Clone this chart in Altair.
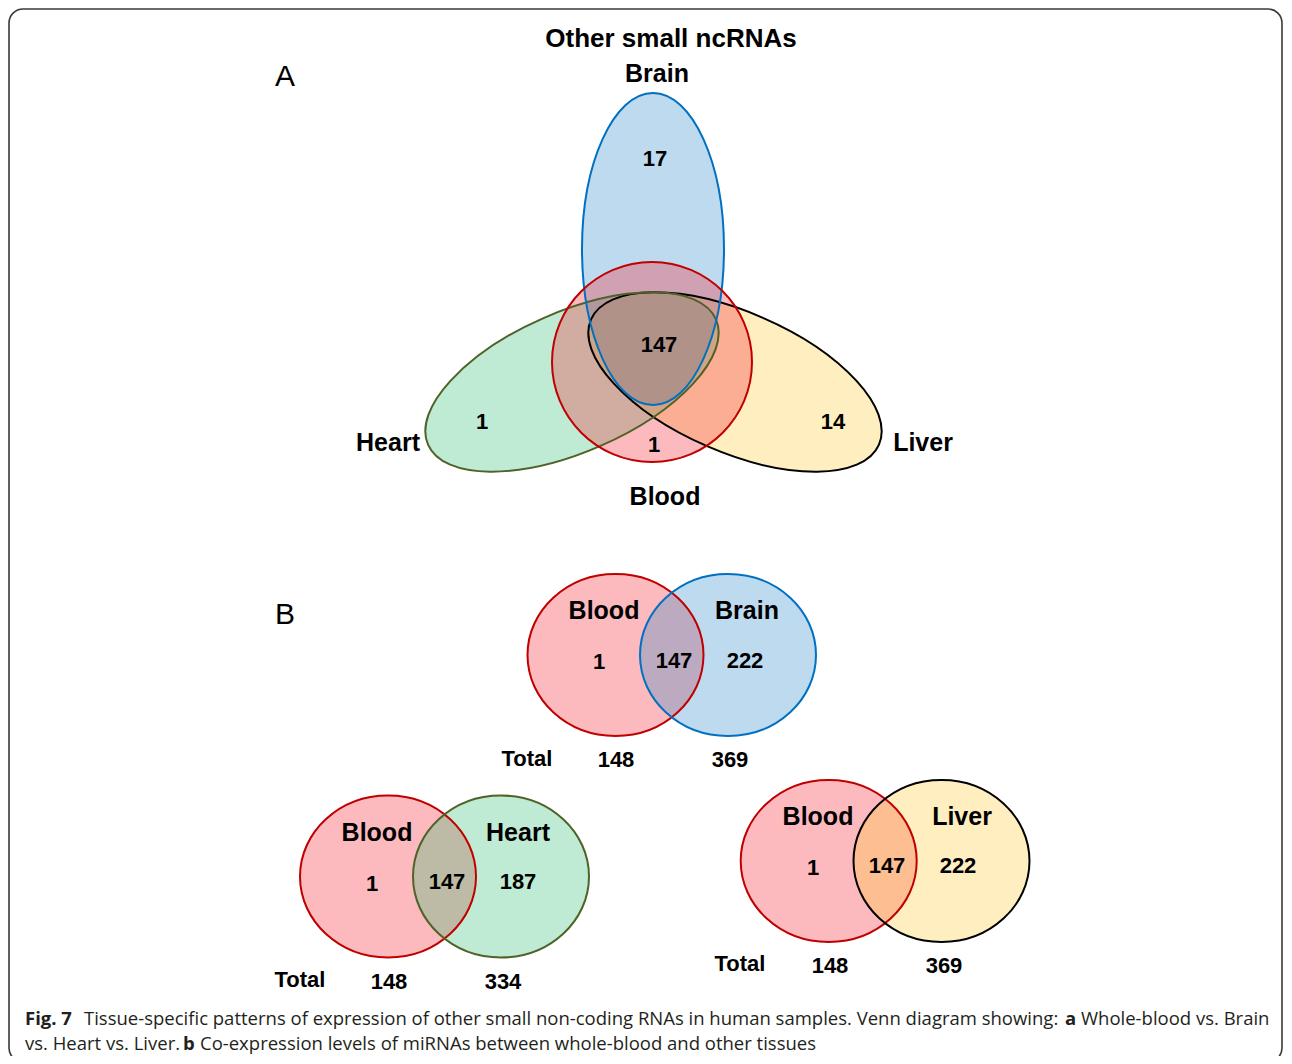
import altair as alt
import pandas as pd

# ---------------- Sets: colours ----------------
SET_NAMES = ["Brain", "Heart", "Liver", "Blood"]
SET_FILL = ["#2684C6", "#2ABC70", "#FFC62D", "#F52D3A"]
SET_FILL_OPACITY = [0.30, 0.30, 0.30, 0.33]
SET_STROKE = ["#0070C0", "#4F6228", "#000000", "#C00000"]

# ---------------- Panel A: four-set Venn (page pixel geometry) ----------------
A_SETS = ["Liver", "Heart", "Brain", "Blood"]
A_CX = [735, 572, 653, 652]
A_CY = [382, 382, 249, 362]
A_RMAJ = [157, 157, 156, 100]
A_RMIN = [70, 70, 71, 100]
A_ANGLE = [23.5, 336.5, 90, 0]
A_ORDER = [1, 2, 3, 4]

# ---------------- Panel B: three two-set Venns ----------------
B_SETS = ["Blood", "Brain", "Blood", "Heart", "Blood", "Liver"]
B_CX = [615.5, 728, 388, 501, 828.7, 941.5]
B_CY = [655, 655, 876.5, 876.5, 861, 861]
B_RMAJ = [88, 88, 88, 88, 88, 88]
B_RMIN = [81, 81, 81, 81, 81, 81]
B_ANGLE = [0, 0, 0, 0, 0, 0]
B_ORDER = [5, 6, 7, 8, 9, 10]

# ---------------- Bold texts: set labels ----------------
LABEL_TEXT = ["Brain", "Heart", "Liver", "Blood",
              "Blood", "Brain", "Blood", "Heart", "Blood", "Liver"]
LABEL_X = [657, 388, 923, 665, 604, 747, 377, 518, 818, 962]
LABEL_Y = [74, 443, 443, 497, 611, 611, 833, 833, 817, 817]

# ---------------- Bold texts: region counts ----------------
COUNT_TEXT = ["17", "147", "1", "1", "14",
              "1", "147", "222",
              "1", "147", "187",
              "1", "147", "222"]
COUNT_X = [655, 659, 482, 654, 833, 599, 674, 745, 372, 447, 518, 813, 887, 958]
COUNT_Y = [159, 345, 422, 445, 422, 662, 661, 661, 884, 882, 882, 868, 866, 866]

# ---------------- Bold texts: totals ----------------
TOTAL_TEXT = ["Total", "148", "369", "Total", "148", "334", "Total", "148", "369"]
TOTAL_X = [527, 616, 730, 300, 389, 503, 740, 830, 944]
TOTAL_Y = [759, 760, 760, 980, 982, 982, 964, 966, 966]

# ---------------- Title & panel letters ----------------
TITLE_TEXT = ["Other small ncRNAs"]
TITLE_X = [671]
TITLE_Y = [39]
PANEL_TEXT = ["A", "B"]
PANEL_X = [285, 285]
PANEL_Y = [77, 615]

# ---------------- Caption ----------------
CAP_TEXT = ["Fig. 7",
            "Tissue-specific patterns of expression of other small non-coding RNAs in human samples. Venn diagram showing:",
            "a", "Whole-blood vs. Brain",
            "vs. Heart vs. Liver.", "b",
            "Co-expression levels of miRNAs between whole-blood and other tissues"]
CAP_X = [25, 84, 1065, 1081, 25, 183, 200]
CAP_Y = [1025, 1025, 1025, 1025, 1050, 1050, 1050]
CAP_BOLD = [True, False, True, False, False, True, False]

# ---------------- Frame ----------------
FRAME_X = [9]
FRAME_X2 = [1282]
FRAME_Y = [9]
FRAME_Y2 = [1062]

W, H = 1276, 1048
X0, Y0 = 8, 8


def ellipse_path(ratio):
    k = 0.5523
    r = ratio
    return (f"M 1 0 C 1 {k*r:.4f} {k} {r:.4f} 0 {r:.4f} "
            f"C {-k} {r:.4f} -1 {k*r:.4f} -1 0 "
            f"C -1 {-k*r:.4f} {-k} {-r:.4f} 0 {-r:.4f} "
            f"C {k} {-r:.4f} 1 {-k*r:.4f} 1 0 Z")


rows = []
for sets, cx, cy, rmaj, rmin, ang, order in [
    (A_SETS, A_CX, A_CY, A_RMAJ, A_RMIN, A_ANGLE, A_ORDER),
    (B_SETS, B_CX, B_CY, B_RMAJ, B_RMIN, B_ANGLE, B_ORDER),
]:
    for s, x, y, a, b, g, o in zip(sets, cx, cy, rmaj, rmin, ang, order):
        i = SET_NAMES.index(s)
        rows.append(dict(set=s, x=x, y=y, shape=ellipse_path(b / a),
                         size=(2 * a) ** 2, angle=g, order=o,
                         fill=SET_FILL[i], fop=SET_FILL_OPACITY[i],
                         stroke=SET_STROKE[i]))
ell = pd.DataFrame(rows)

bold_rows = []
for t, x, y in zip(LABEL_TEXT, LABEL_X, LABEL_Y):
    bold_rows.append(dict(text=t, x=x, y=y, size=25))
for t, x, y in zip(COUNT_TEXT, COUNT_X, COUNT_Y):
    bold_rows.append(dict(text=t, x=x, y=y, size=22))
for t, x, y in zip(TOTAL_TEXT, TOTAL_X, TOTAL_Y):
    bold_rows.append(dict(text=t, x=x, y=y, size=22))
for t, x, y in zip(TITLE_TEXT, TITLE_X, TITLE_Y):
    bold_rows.append(dict(text=t, x=x, y=y, size=26))
bold_df = pd.DataFrame(bold_rows)

panel_df = pd.DataFrame(dict(text=PANEL_TEXT, x=PANEL_X, y=PANEL_Y))
cap_df = pd.DataFrame(dict(text=CAP_TEXT, x=CAP_X, y=CAP_Y, bold=CAP_BOLD))
frame_df = pd.DataFrame(dict(x=FRAME_X, x2=FRAME_X2, y=FRAME_Y, y2=FRAME_Y2))

xs = alt.Scale(domain=[X0, X0 + W], nice=False, zero=False)
ys = alt.Scale(domain=[Y0, Y0 + H], nice=False, zero=False, reverse=True)
X = lambda f="x": alt.X(f"{f}:Q", scale=xs, axis=None)
Y = lambda f="y": alt.Y(f"{f}:Q", scale=ys, axis=None)

frame = alt.Chart(frame_df).mark_rect(
    fillOpacity=0, stroke="#3a3a3a", strokeWidth=1.6, cornerRadius=14
).encode(x=X(), x2="x2:Q", y=Y(), y2="y2:Q")

fills = alt.Chart(ell).mark_point(filled=True, opacity=1, strokeWidth=0).encode(
    x=X(), y=Y(),
    shape=alt.Shape("shape:N", scale=None),
    size=alt.Size("size:Q", scale=None),
    angle=alt.Angle("angle:Q", scale=None),
    fill=alt.Fill("fill:N", scale=None),
    fillOpacity=alt.FillOpacity("fop:Q", scale=None),
    order=alt.Order("order:Q"),
)

strokes = alt.Chart(ell).mark_point(filled=False, opacity=1, strokeWidth=2).encode(
    x=X(), y=Y(),
    shape=alt.Shape("shape:N", scale=None),
    size=alt.Size("size:Q", scale=None),
    angle=alt.Angle("angle:Q", scale=None),
    stroke=alt.Stroke("stroke:N", scale=None),
    order=alt.Order("order:Q"),
)

bold_text = alt.Chart(bold_df).mark_text(
    font="Liberation Sans", fontWeight="bold", align="center", baseline="middle",
    color="#000000"
).encode(x=X(), y=Y(), text="text:N", size=alt.Size("size:Q", scale=None))

panel_text = alt.Chart(panel_df).mark_text(
    font="Liberation Sans", fontSize=30, align="center", baseline="middle",
    color="#000000"
).encode(x=X(), y=Y(), text="text:N")

cap_bold = alt.Chart(cap_df).transform_filter("datum.bold").mark_text(
    font="Open Sans", fontWeight="bold", fontSize=18.5, align="left",
    baseline="alphabetic", color="#231F20"
).encode(x=X(), y=Y(), text="text:N")

cap_reg = alt.Chart(cap_df).transform_filter("!datum.bold").mark_text(
    font="Open Sans", fontSize=18.5, align="left",
    baseline="alphabetic", color="#231F20"
).encode(x=X(), y=Y(), text="text:N")

chart = alt.layer(
    frame, fills, strokes, bold_text, panel_text, cap_bold, cap_reg
).properties(
    width=W, height=H, autosize=alt.AutoSizeParams(type="none"), padding=0,
    background="#ffffff"
).configure_view(stroke=None)

chart.save("out.html", embed_options={"renderer": "svg", "actions": False})
